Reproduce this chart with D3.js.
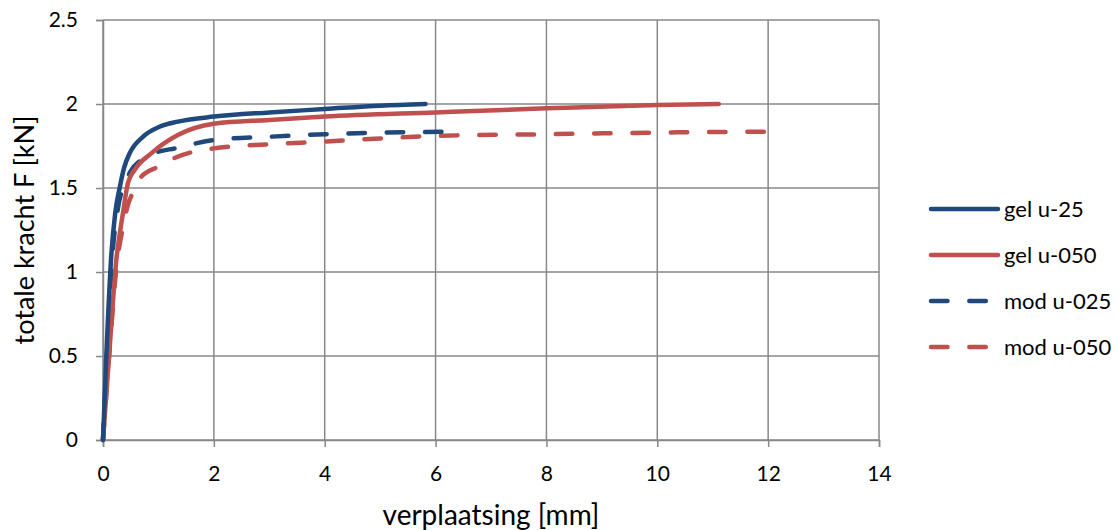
<!DOCTYPE html>
<html><head><meta charset="utf-8">
<script src="https://cdn.jsdelivr.net/npm/d3@7"></script>
<style>
body{margin:0;background:#fff;}
text{font-family:Lato, "Open Sans", sans-serif;fill:#000;}
</style></head>
<body><svg id="c" width="1119" height="530"></svg>
<script>
const xTicks=[0,2,4,6,8,10,12,14];
const yTicks=[0,0.5,1,1.5,2,2.5];
const yTickLabels=["0","0.5","1","1.5","2","2.5"];
const seriesNames=["gel u-25","gel u-050","mod u-025","mod u-050"];
const gel25X=[0,0.06,0.15,0.22,0.30,0.38,0.48,0.72,1.02,1.35,2,3,4,5,5.82];
const gel25Y=[0,0.5,1.1,1.35,1.5,1.62,1.706,1.805,1.865,1.895,1.925,1.95,1.97,1.99,2.0];
const gel50X=[0,0.11,0.24,0.36,0.45,0.57,0.87,1.35,2,3,4,6,8,10,11.11];
const gel50Y=[0,0.5,1.07,1.35,1.53,1.607,1.706,1.815,1.882,1.905,1.925,1.95,1.974,1.994,2.0];
const mod25X=[0,0.07,0.17,0.27,0.40,0.50,0.70,1.0,1.3,2,3,4,5,6.17];
const mod25Y=[0,0.5,1.1,1.38,1.53,1.6,1.67,1.716,1.736,1.786,1.805,1.82,1.83,1.835];
const mod50X=[0,0.11,0.25,0.35,0.45,0.55,0.69,1.0,1.3,2,3,4,5,6,8,10,12.05];
const mod50Y=[0,0.5,1.05,1.25,1.4,1.48,1.567,1.627,1.68,1.736,1.76,1.776,1.795,1.81,1.82,1.83,1.835];
const colors=["#1F497D","#C0504D","#1F497D","#C0504D"];
const dashed=[false,false,true,true];

const svg=d3.select("#c");
const x=d3.scaleLinear().domain([0,14]).range([103,879]);
const y=d3.scaleLinear().domain([0,2.5]).range([440,20]);
const grid="#888";

// gridlines
svg.append("g").selectAll("line").data(yTicks).join("line")
  .attr("x1",x(0)).attr("x2",x(14)).attr("y1",d=>y(d)).attr("y2",d=>y(d))
  .attr("stroke",grid).attr("stroke-width",1.5);
svg.append("g").selectAll("line").data(xTicks).join("line")
  .attr("y1",y(0)).attr("y2",y(2.5)).attr("x1",d=>x(d)).attr("x2",d=>x(d))
  .attr("stroke",grid).attr("stroke-width",1.5);

// axes
const yAxis=d3.axisLeft(y).tickValues(yTicks).tickFormat((d,i)=>yTickLabels[i]).tickSize(7).tickPadding(18);
const gy=svg.append("g").attr("transform",`translate(${x(0)},0)`).call(yAxis);
const xAxis=d3.axisBottom(x).tickValues(xTicks).tickFormat(d3.format("d")).tickSize(7).tickPadding(19);
const gx=svg.append("g").attr("transform",`translate(0,${y(0)})`).call(xAxis);
[gx,gy].forEach(g=>{
  g.select(".domain").attr("stroke",grid).attr("stroke-width",1.5);
  g.selectAll(".tick line").attr("stroke",grid).attr("stroke-width",1.5);
  g.selectAll("text").style("font-family","Lato, 'Open Sans', sans-serif").style("font-size","21px").attr("fill","#000");
});

// series
const data=[[gel25X,gel25Y],[gel50X,gel50Y],[mod25X,mod25Y],[mod50X,mod50Y]];
const line=d3.line().x(d=>x(d[0])).y(d=>y(d[1])).curve(d3.curveMonotoneX);
const order=[3,2,1,0];
order.forEach(i=>{
  const pts=data[i][0].map((v,k)=>[v,data[i][1][k]]);
  svg.append("path").datum(pts).attr("d",line).attr("fill","none")
    .attr("stroke",colors[i]).attr("stroke-width",4.5).attr("stroke-linecap","round")
    .attr("stroke-linejoin","round")
    .attr("stroke-dasharray",dashed[i]?"16.5,21.8":null);
});

// axis titles
svg.append("text").attr("x",(x(0)+x(14))/2).attr("y",525).attr("text-anchor","middle")
  .style("font-size","28px").text("verplaatsing [mm]");
svg.append("text").attr("transform",`translate(34,${y(1.25)}) rotate(-90)`).attr("text-anchor","middle")
  .style("font-size","27px").text("totale kracht F [kN]");

// legend
const lg=svg.append("g");
seriesNames.forEach((n,i)=>{
  const yy=209+i*46;
  lg.append("line").attr("x1",931).attr("x2",998).attr("y1",yy).attr("y2",yy)
    .attr("stroke",colors[i]).attr("stroke-width",4.5).attr("stroke-linecap","round")
    .attr("stroke-dasharray",dashed[i]?"16.5,21.8":null);
  lg.append("text").attr("x",1004).attr("y",yy).attr("dy","0.35em").style("font-size","22px").text(n);
});
</script></body></html>
